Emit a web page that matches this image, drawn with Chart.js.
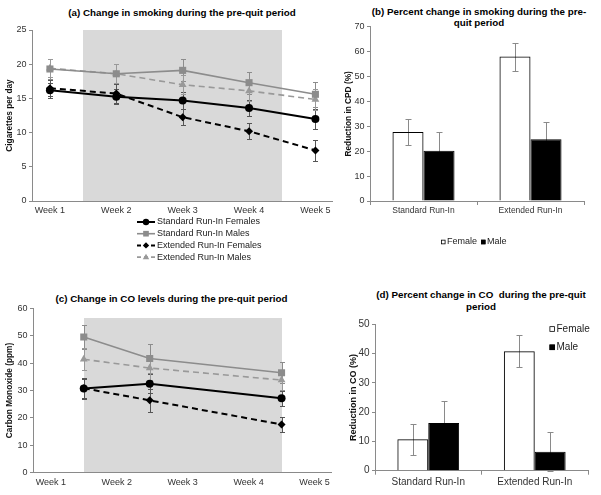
<!DOCTYPE html>
<html><head><meta charset="utf-8">
<script src="https://cdn.jsdelivr.net/npm/chart.js@4.4.1/dist/chart.umd.min.js"></script>
<style>
body{margin:0;background:#fff;width:601px;height:495px;position:relative;overflow:hidden;font-family:"Liberation Sans",Arial,sans-serif;}
canvas{position:absolute;}
.t{position:absolute;text-align:center;font-weight:bold;font-size:9.8px;line-height:11px;color:#000;white-space:nowrap;}
</style></head><body>
<div class="t" style="left:0;top:7px;width:364px;">(a) Change in smoking during the pre-quit period</div>
<div class="t" style="left:359px;top:6px;width:240px;">(b) Percent change in smoking during the pre-<br>quit period</div>
<div class="t" style="left:0;top:293px;width:343px;">(c) Change in CO levels during the pre-quit period</div>
<div class="t" style="left:361px;top:289px;width:240px;line-height:11.7px;">(d) Percent change in CO&nbsp; during the pre-quit<br>period</div>
<canvas id="ca" width="350" height="265" style="left:0;top:0"></canvas>
<canvas id="cb" width="301" height="255" style="left:300px;top:0"></canvas>
<canvas id="cc" width="350" height="215" style="left:0;top:280px"></canvas>
<canvas id="cd" width="301" height="215" style="left:300px;top:280px"></canvas>
<script>
// ---------- DATA ----------
const weekLabels = ['Week 1', 'Week 2', 'Week 3', 'Week 4', 'Week 5'];
const weekTicks = [1, 2, 3, 4, 5];
const seriesNames = ['Standard Run-In Females', 'Standard Run-In Males', 'Extended Run-In Females', 'Extended Run-In Males'];
const runInPeriod = [1.5, 4.5];

// (a) cigarettes per day
const cpdWeeks = [1, 2, 3, 4, 5];
const cpdStdFemale = [16.2, 15.25, 14.7, 13.6, 12.0];
const cpdStdFemaleErr = [1.1, 1.1, 1.2, 1.1, 1.5];
const cpdStdMale = [19.3, 18.6, 19.1, 17.3, 15.6];
const cpdStdMaleErr = [1.4, 1.5, 1.6, 1.6, 1.8];
const cpdExtFemale = [16.5, 15.7, 12.25, 10.2, 7.4];
const cpdExtFemaleErr = [1.2, 1.4, 1.2, 1.2, 1.5];
const cpdExtMale = [19.4, 18.6, 17.0, 16.1, 14.85];
const cpdExtMaleErr = [1.3, 1.4, 1.4, 1.5, 1.5];
const cpdShadeTop = 25;

// (c) carbon monoxide
const coWeeks = [1.5, 2.5, 4.5];
const coStdFemale = [30.7, 32.5, 27.2];
const coStdFemaleErr = [3.7, 3.5, 2.8];
const coStdMale = [49.5, 41.7, 36.5];
const coStdMaleErr = [4.5, 5.3, 3.8];
const coExtFemale = [30.8, 26.4, 17.6];
const coExtFemaleErr = [3.5, 4.2, 2.9];
const coExtMale = [41.4, 38.2, 33.8];
const coExtMaleErr = [4.0, 4.2, 3.5];
const coShadeTop = 56.5;

// (b) and (d) percent reductions
const groupLabels = ['Standard Run-In', 'Extended Run-In'];
const genderLabels = ['Female', 'Male'];
const pctCpdFemale = [27.7, 58.0];
const pctCpdFemaleErr = [5.4, 5.6];
const pctCpdMale = [20.2, 24.8];
const pctCpdMaleErr = [7.6, 6.8];
const pctCoFemale = [10.7, 40.8];
const pctCoFemaleErr = [5.4, 5.5];
const pctCoMale = [16.3, 6.5];
const pctCoMaleErr = [7.6, 6.6];

// ---------- STYLE ----------
Chart.defaults.font.family = '"Liberation Sans", Arial, sans-serif';
Chart.defaults.color = '#333';
const AXIS = '#8a8a8a';
const lineStyles = [
  {borderColor:'#000', backgroundColor:'#000', pointStyle:'circle', pointRadius:4, borderWidth:2, borderDash:[], errorColor:'#555'},
  {borderColor:'#8c8c8c', backgroundColor:'#8c8c8c', pointStyle:'rect', pointRadius:5, borderWidth:1.6, borderDash:[], errorColor:'#8c8c8c'},
  {borderColor:'#000', backgroundColor:'#000', pointStyle:'rectRot', pointRadius:4, borderWidth:2, borderDash:[6,4], errorColor:'#555'},
  {borderColor:'#999', backgroundColor:'#999', pointStyle:'triangle', pointRadius:4.5, borderWidth:1.6, borderDash:[6,4], errorColor:'#999'}
];

function drawMarker(ctx, style, x, y, r, color){
  ctx.beginPath();
  if (style === 'circle') ctx.arc(x, y, r, 0, Math.PI*2);
  else if (style === 'rect') { const s = r*Math.SQRT1_2; ctx.rect(x-s, y-s, 2*s, 2*s); }
  else if (style === 'rectRot') { ctx.moveTo(x, y-r); ctx.lineTo(x+r, y); ctx.lineTo(x, y+r); ctx.lineTo(x-r, y); ctx.closePath(); }
  else if (style === 'triangle') { const h = r*1.5; ctx.moveTo(x, y-h*0.6); ctx.lineTo(x+r*0.9, y+h*0.4); ctx.lineTo(x-r*0.9, y+h*0.4); ctx.closePath(); }
  ctx.fillStyle = color; ctx.fill();
}

const shadePlugin = {
  id: 'shade',
  beforeDraw(chart, args, opts){
    if (!opts || !opts.range) return;
    const {ctx, scales:{x, y}} = chart;
    const x0 = x.getPixelForValue(opts.range[0]), x1 = x.getPixelForValue(opts.range[1]);
    const y0 = y.getPixelForValue(0), y1 = y.getPixelForValue(opts.top);
    ctx.save(); ctx.fillStyle = opts.color || '#d9d9d9';
    ctx.fillRect(Math.round(x0), Math.round(y1), Math.round(x1)-Math.round(x0), Math.round(y0)-Math.round(y1));
    ctx.restore();
  }
};

const errorPlugin = {
  id: 'errbars',
  beforeDatasetsDraw(chart, args, opts){
    const ctx = chart.ctx;
    const cap = (opts && opts.cap) || 2.5;
    chart.data.datasets.forEach((ds, i) => {
      if (!ds.errors) return;
      const meta = chart.getDatasetMeta(i);
      const ys = chart.scales[meta.yAxisID];
      ctx.save(); ctx.strokeStyle = ds.errorColor || '#888'; ctx.lineWidth = 1;
      meta.data.forEach((el, j) => {
        const raw = ds.data[j];
        const v = (typeof raw === 'object') ? raw.y : raw;
        const e = ds.errors[j];
        const x = Math.round(el.x) + 0.5;
        const yt = Math.round(ys.getPixelForValue(v + e)) + 0.5;
        const yb = Math.round(ys.getPixelForValue(v - e)) + 0.5;
        ctx.beginPath();
        ctx.moveTo(x, yt); ctx.lineTo(x, yb);
        ctx.moveTo(x-cap, yt); ctx.lineTo(x+cap, yt);
        ctx.moveTo(x-cap, yb); ctx.lineTo(x+cap, yb);
        ctx.stroke();
      });
      ctx.restore();
    });
  }
};

const keyPlugin = {
  id: 'keys',
  afterDraw(chart, args, opts){
    if (!opts || !opts.kind) return;
    const ctx = chart.ctx;
    ctx.save();
    ctx.font = (opts.size || 9) + 'px "Liberation Sans", Arial, sans-serif';
    ctx.textBaseline = 'middle'; ctx.textAlign = 'left';
    chart.data.datasets.forEach((ds, i) => {
      const px = opts.x + i*(opts.dx || 0), py = opts.y + i*(opts.dy || 0);
      if (opts.kind === 'line') {
        ctx.save();
        ctx.strokeStyle = ds.borderColor; ctx.lineWidth = ds.borderWidth;
        ctx.setLineDash(ds.borderDash && ds.borderDash.length ? [4,3] : []);
        ctx.beginPath(); ctx.moveTo(px, py); ctx.lineTo(px + opts.len, py); ctx.stroke();
        ctx.restore();
        drawMarker(ctx, ds.pointStyle, px + opts.len/2, py, ds.pointRadius*0.8, ds.backgroundColor);
        ctx.fillStyle = '#222';
        ctx.fillText(ds.label, px + opts.len + opts.gap, py);
      } else {
        const s = opts.box;
        ctx.fillStyle = ds.legendFill; ctx.fillRect(px, py - s/2, s, s);
        ctx.strokeStyle = '#000'; ctx.lineWidth = 0.8; ctx.strokeRect(px+0.4, py - s/2 + 0.4, s-0.8, s-0.8);
        ctx.fillStyle = '#222';
        ctx.fillText(ds.label, px + s + opts.gap, py);
      }
    });
    ctx.restore();
  }
};
Chart.register(shadePlugin, errorPlugin, keyPlugin);

function lineDatasets(xs, vals, errs){
  return vals.map((v, i) => Object.assign({
    label: seriesNames[i],
    data: xs.map((x, j) => ({x: x, y: v[j]})),
    errors: errs[i],
    tension: 0, fill: false, pointBorderWidth: 0, pointHoverRadius: 4
  }, lineStyles[i]));
}

function linePanel(id, xs, vals, errs, yMax, yTitle, shadeTop, pad, yW, tPad, keys){
  return new Chart(document.getElementById(id), {
    type: 'line',
    data: { datasets: lineDatasets(xs, vals, errs) },
    options: {
      responsive: false, animation: false, devicePixelRatio: 1,
      layout: { padding: pad, autoPadding: false },
      plugins: {
        legend: {display: false}, title: {display: false}, tooltip: {enabled: false},
        shade: { range: runInPeriod, top: shadeTop, color: '#d9d9d9' },
        errbars: { cap: 2.5 },
        keys: keys
      },
      scales: {
        x: {
          type: 'linear', min: 0.73, max: 5.25,
          afterBuildTicks: s => { s.ticks = weekTicks.map(v => ({value: v})); },
          afterFit: s => { s.height = 20; },
          ticks: { callback: v => weekLabels[weekTicks.indexOf(v)] || '', font: {size: 9}, color: '#333', padding: 4.5, maxRotation: 0, autoSkip: false },
          grid: { display: false, drawTicks: false, tickLength: 0 },
          border: { color: AXIS, width: 1 }
        },
        y: {
          min: 0, max: yMax,
          afterFit: s => { s.width = yW; },
          ticks: { stepSize: yMax === 25 ? 5 : 10, font: {size: 9}, color: '#333', padding: 2.5 },
          grid: { drawOnChartArea: false, drawTicks: true, tickLength: 3, color: AXIS },
          border: { color: AXIS, width: 1 },
          title: { display: true, text: yTitle, font: {size: 8.3, weight: 'bold'}, color: '#111', padding: {top: tPad, bottom: 0} }
        }
      }
    }
  });
}

function barPanel(id, fem, femErr, male, maleErr, yMax, yTitle, pad, yW, xH, tPad, fs, keys){
  return new Chart(document.getElementById(id), {
    type: 'bar',
    data: {
      labels: groupLabels,
      datasets: [
        { label: genderLabels[0], data: fem, errors: femErr, backgroundColor: 'rgba(255,255,255,0)', legendFill: '#fff',
          borderColor: '#000', borderWidth: 1, errorColor: '#8a8a8a' },
        { label: genderLabels[1], data: male, errors: maleErr, backgroundColor: '#000', legendFill: '#000',
          borderColor: '#000', borderWidth: 1, errorColor: '#8a8a8a' }
      ]
    },
    options: {
      responsive: false, animation: false, devicePixelRatio: 1,
      layout: { padding: pad, autoPadding: false },
      datasets: { bar: { categoryPercentage: 0.58, barPercentage: 1.0 } },
      plugins: {
        legend: {display: false}, title: {display: false}, tooltip: {enabled: false},
        errbars: { cap: 3 },
        keys: keys
      },
      scales: {
        x: {
          afterFit: s => { s.height = xH; },
          ticks: { font: {size: fs.x}, color: '#333', padding: fs.xp, maxRotation: 0 },
          grid: { drawOnChartArea: false, drawTicks: true, tickLength: 4, color: AXIS, offset: true },
          border: { color: AXIS, width: 1 }
        },
        y: {
          min: 0, max: yMax,
          afterFit: s => { s.width = yW; },
          ticks: { stepSize: 10, font: {size: fs.y}, color: '#333', padding: 2.5 },
          grid: { drawOnChartArea: false, drawTicks: true, tickLength: 3, color: AXIS },
          border: { color: AXIS, width: 1 },
          title: { display: true, text: yTitle, font: {size: fs.t, weight: 'bold'}, color: '#111', padding: {top: tPad, bottom: 0} }
        }
      }
    }
  });
}

linePanel('ca', cpdWeeks,
  [cpdStdFemale, cpdStdMale, cpdExtFemale, cpdExtMale],
  [cpdStdFemaleErr, cpdStdMaleErr, cpdExtFemaleErr, cpdExtMaleErr],
  25, 'Cigarettes per day', cpdShadeTop,
  {left: 0, top: 30, right: 18, bottom: 44}, 32, 4.5,
  {kind: 'line', x: 137, y: 222, dx: 0, dy: 11.7, len: 18, gap: 2, size: 9});

linePanel('cc', coWeeks,
  [coStdFemale, coStdMale, coExtFemale, coExtMale],
  [coStdFemaleErr, coStdMaleErr, coExtFemaleErr, coExtMaleErr],
  60, 'Carbon Monoxide (ppm)', coShadeTop,
  {left: 0, top: 28.3, right: 19, bottom: 2.3}, 33, 5,
  {});

barPanel('cb', pctCpdFemale, pctCpdFemaleErr, pctCpdMale, pctCpdMaleErr, 70, 'Reduction in CPD (%)',
  {left: 40, top: 26.7, right: 17, bottom: 34}, 30, 20, 3.3, {x: 8.5, xp: 1, y: 9, t: 8.3},
  {kind: 'box', x: 141, y: 242, dx: 40, dy: 0, box: 4.5, gap: 1.5, size: 9});

barPanel('cd', pctCoFemale, pctCoFemaleErr, pctCoMale, pctCoMaleErr, 50, 'Reduction in CO (%)',
  {left: 44, top: 44.3, right: 13, bottom: 2.3}, 31, 22, 3.9, {x: 10, xp: 1.6, y: 10, t: 9},
  {kind: 'box', x: 249.5, y: 49, dx: 0, dy: 18.3, box: 5.5, gap: 1.5, size: 10});
</script>
</body></html>
